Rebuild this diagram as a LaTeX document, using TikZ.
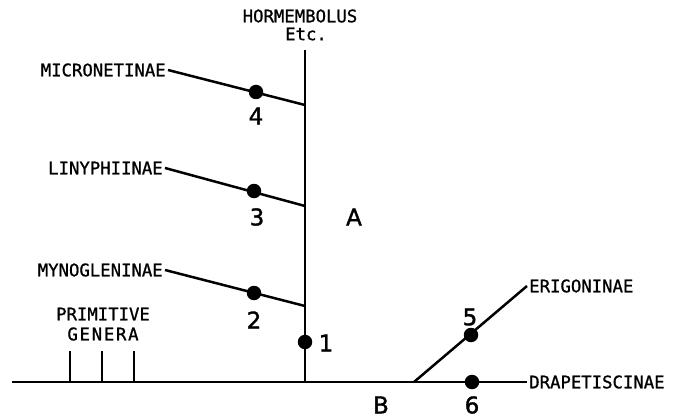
\documentclass[tikz,border=0pt]{standalone}
\usepackage{fontspec}
\setmainfont{DejaVu Sans}
\newfontfamily\labfont[FakeBold=1]{DejaVu Sans Mono}
\newfontfamily\spacedfont[LetterSpace=10,FakeBold=1]{DejaVu Sans Mono}
\newfontfamily\numfont[FakeBold=1.5]{DejaVu Sans}
\begin{document}
\begin{tikzpicture}[x=1pt,y=-1pt,line width=2.5pt,
  lab/.style={font=\labfont\fontsize{17.3}{19}\selectfont, inner sep=1pt},
  num/.style={font=\numfont\fontsize{23}{24}\selectfont, inner sep=0pt},
  dot/.style={circle, fill=black, draw=none, inner sep=0pt, minimum size=14.5pt}]
\useasboundingbox (0,0) rectangle (673,420);
% main axes
\node[lab] (horm) at (300,16) {HORMEMBOLUS};
\node[lab] (etc) at (306,34) {Etc.};
\coordinate (top) at (305,50);
\coordinate (root) at (305,382);
\coordinate (left) at (12,382);
\coordinate (fork) at (414,382);
\coordinate (j4) at (305,105);
\coordinate (j3) at (305,206);
\coordinate (j2) at (305,306);
\draw (top) -- (root);
% side branches
\node[lab, anchor=east] (micro) at (168,70) {MICRONETINAE};
\node[lab, anchor=east] (liny) at (165,168) {LINYPHIINAE};
\node[lab, anchor=east] (myno) at (165,270) {MYNOGLENINAE};
\draw (micro.east) -- (j4);
\draw (liny.east) -- (j3);
\draw (myno.east) -- (j2);
% right side
\node[lab, anchor=west] (erig) at (527,286) {ERIGONINAE};
\node[lab, anchor=west] (drap) at (527,382) {DRAPETISCINAE};
\draw (left) -- (drap.west);
\draw (fork) -- (erig.west);
% primitive genera
\coordinate (t1) at (70,351); \coordinate (b1) at (70,382);
\coordinate (t2) at (102,351); \coordinate (b2) at (102,382);
\coordinate (t3) at (134,351); \coordinate (b3) at (134,382);
\draw (t1) -- (b1); \draw (t2) -- (b2); \draw (t3) -- (b3);
\node[lab] (prim) at (103,314) {PRIMITIVE};
\node[lab, font=\spacedfont\fontsize{17.3}{19}\selectfont] (gen) at (103,334) {GENERA};
% dots
\node[dot] (d1) at (305,342) {};
\node[dot] (d2) at (254,293) {};
\node[dot] (d3) at (254,191) {};
\node[dot] (d4) at (256,92) {};
\node[dot] (d5) at (471,335) {};
\node[dot] (d6) at (472,382) {};
% numbers
\node[num] (n1) at (326,343) {1};
\node[num] (n2) at (254,320) {2};
\node[num] (n3) at (257,217) {3};
\node[num] (n4) at (256,116) {4};
\node[num] (n5) at (470,317) {5};
\node[num] (n6) at (472,405) {6};
\node[num] (lA) at (354,217) {A};
\node[num] (lB) at (381,405) {B};
\end{tikzpicture}
\end{document}
